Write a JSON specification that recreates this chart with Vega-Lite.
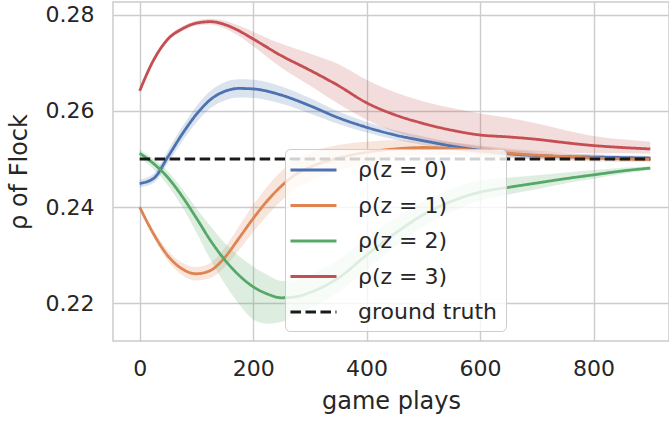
{
  "$schema": "https://vega.github.io/schema/vega-lite/v6.json",
  "width": 556,
  "height": 339,
  "autosize": {"type": "none"},
  "padding": {"left": 113, "top": 2, "right": 0, "bottom": 80},
  "background": "white",
  "datasets": {
    "d": [
      {"s":"ρ(z = 0)","x":0,"y":0.2449,"lo":0.2441,"hi":0.2457},
      {"s":"ρ(z = 0)","x":25,"y":0.2460,"lo":0.2450,"hi":0.2470},
      {"s":"ρ(z = 0)","x":50,"y":0.2505,"lo":0.2492,"hi":0.2518},
      {"s":"ρ(z = 0)","x":75,"y":0.2552,"lo":0.2537,"hi":0.2567},
      {"s":"ρ(z = 0)","x":100,"y":0.2593,"lo":0.2576,"hi":0.2610},
      {"s":"ρ(z = 0)","x":125,"y":0.2624,"lo":0.2606,"hi":0.2642},
      {"s":"ρ(z = 0)","x":150,"y":0.2641,"lo":0.2622,"hi":0.2660},
      {"s":"ρ(z = 0)","x":175,"y":0.2647,"lo":0.2628,"hi":0.2666},
      {"s":"ρ(z = 0)","x":200,"y":0.2646,"lo":0.2627,"hi":0.2665},
      {"s":"ρ(z = 0)","x":250,"y":0.2633,"lo":0.2615,"hi":0.2651},
      {"s":"ρ(z = 0)","x":300,"y":0.2611,"lo":0.2595,"hi":0.2627},
      {"s":"ρ(z = 0)","x":350,"y":0.2586,"lo":0.2573,"hi":0.2599},
      {"s":"ρ(z = 0)","x":400,"y":0.2566,"lo":0.2555,"hi":0.2577},
      {"s":"ρ(z = 0)","x":450,"y":0.2550,"lo":0.2540,"hi":0.2560},
      {"s":"ρ(z = 0)","x":500,"y":0.2538,"lo":0.2529,"hi":0.2547},
      {"s":"ρ(z = 0)","x":550,"y":0.2527,"lo":0.2519,"hi":0.2535},
      {"s":"ρ(z = 0)","x":600,"y":0.2518,"lo":0.2510,"hi":0.2526},
      {"s":"ρ(z = 0)","x":650,"y":0.2511,"lo":0.2504,"hi":0.2518},
      {"s":"ρ(z = 0)","x":700,"y":0.2507,"lo":0.2500,"hi":0.2514},
      {"s":"ρ(z = 0)","x":750,"y":0.2505,"lo":0.2499,"hi":0.2511},
      {"s":"ρ(z = 0)","x":800,"y":0.2504,"lo":0.2498,"hi":0.2510},
      {"s":"ρ(z = 0)","x":850,"y":0.2503,"lo":0.2498,"hi":0.2508},
      {"s":"ρ(z = 0)","x":900,"y":0.2502,"lo":0.2497,"hi":0.2507},

      {"s":"ρ(z = 1)","x":0,"y":0.2400,"lo":0.2396,"hi":0.2404},
      {"s":"ρ(z = 1)","x":25,"y":0.2343,"lo":0.2335,"hi":0.2351},
      {"s":"ρ(z = 1)","x":50,"y":0.2298,"lo":0.2287,"hi":0.2309},
      {"s":"ρ(z = 1)","x":75,"y":0.2271,"lo":0.2258,"hi":0.2284},
      {"s":"ρ(z = 1)","x":100,"y":0.2261,"lo":0.2247,"hi":0.2275},
      {"s":"ρ(z = 1)","x":125,"y":0.2268,"lo":0.2252,"hi":0.2284},
      {"s":"ρ(z = 1)","x":150,"y":0.2295,"lo":0.2275,"hi":0.2315},
      {"s":"ρ(z = 1)","x":175,"y":0.2335,"lo":0.2310,"hi":0.2360},
      {"s":"ρ(z = 1)","x":200,"y":0.2376,"lo":0.2348,"hi":0.2404},
      {"s":"ρ(z = 1)","x":225,"y":0.2413,"lo":0.2383,"hi":0.2443},
      {"s":"ρ(z = 1)","x":250,"y":0.2444,"lo":0.2413,"hi":0.2475},
      {"s":"ρ(z = 1)","x":275,"y":0.2468,"lo":0.2437,"hi":0.2499},
      {"s":"ρ(z = 1)","x":300,"y":0.2483,"lo":0.2453,"hi":0.2513},
      {"s":"ρ(z = 1)","x":350,"y":0.2502,"lo":0.2475,"hi":0.2529},
      {"s":"ρ(z = 1)","x":400,"y":0.2514,"lo":0.2492,"hi":0.2536},
      {"s":"ρ(z = 1)","x":450,"y":0.2521,"lo":0.2503,"hi":0.2539},
      {"s":"ρ(z = 1)","x":500,"y":0.2524,"lo":0.2509,"hi":0.2539},
      {"s":"ρ(z = 1)","x":550,"y":0.2522,"lo":0.2509,"hi":0.2535},
      {"s":"ρ(z = 1)","x":600,"y":0.2517,"lo":0.2506,"hi":0.2528},
      {"s":"ρ(z = 1)","x":650,"y":0.2512,"lo":0.2502,"hi":0.2522},
      {"s":"ρ(z = 1)","x":700,"y":0.2508,"lo":0.2499,"hi":0.2517},
      {"s":"ρ(z = 1)","x":750,"y":0.2505,"lo":0.2497,"hi":0.2513},
      {"s":"ρ(z = 1)","x":800,"y":0.2502,"lo":0.2495,"hi":0.2509},
      {"s":"ρ(z = 1)","x":850,"y":0.2500,"lo":0.2494,"hi":0.2506},
      {"s":"ρ(z = 1)","x":900,"y":0.2499,"lo":0.2494,"hi":0.2504},

      {"s":"ρ(z = 2)","x":0,"y":0.2512,"lo":0.2504,"hi":0.2520},
      {"s":"ρ(z = 2)","x":25,"y":0.2490,"lo":0.2478,"hi":0.2500},
      {"s":"ρ(z = 2)","x":50,"y":0.2461,"lo":0.2445,"hi":0.2474},
      {"s":"ρ(z = 2)","x":75,"y":0.2422,"lo":0.2400,"hi":0.2438},
      {"s":"ρ(z = 2)","x":100,"y":0.2377,"lo":0.2347,"hi":0.2397},
      {"s":"ρ(z = 2)","x":125,"y":0.2330,"lo":0.2290,"hi":0.2360},
      {"s":"ρ(z = 2)","x":150,"y":0.2290,"lo":0.2240,"hi":0.2325},
      {"s":"ρ(z = 2)","x":175,"y":0.2258,"lo":0.2198,"hi":0.2298},
      {"s":"ρ(z = 2)","x":200,"y":0.2234,"lo":0.2166,"hi":0.2276},
      {"s":"ρ(z = 2)","x":225,"y":0.2219,"lo":0.2157,"hi":0.2259},
      {"s":"ρ(z = 2)","x":250,"y":0.2211,"lo":0.2161,"hi":0.2246},
      {"s":"ρ(z = 2)","x":275,"y":0.2213,"lo":0.2173,"hi":0.2248},
      {"s":"ρ(z = 2)","x":300,"y":0.2222,"lo":0.2189,"hi":0.2259},
      {"s":"ρ(z = 2)","x":350,"y":0.2252,"lo":0.2222,"hi":0.2290},
      {"s":"ρ(z = 2)","x":400,"y":0.2300,"lo":0.2270,"hi":0.2335},
      {"s":"ρ(z = 2)","x":450,"y":0.2345,"lo":0.2317,"hi":0.2377},
      {"s":"ρ(z = 2)","x":500,"y":0.2384,"lo":0.2359,"hi":0.2412},
      {"s":"ρ(z = 2)","x":550,"y":0.2412,"lo":0.2390,"hi":0.2438},
      {"s":"ρ(z = 2)","x":600,"y":0.2431,"lo":0.2413,"hi":0.2456},
      {"s":"ρ(z = 2)","x":650,"y":0.2441,"lo":0.2426,"hi":0.2461},
      {"s":"ρ(z = 2)","x":700,"y":0.2450,"lo":0.2437,"hi":0.2466},
      {"s":"ρ(z = 2)","x":750,"y":0.2459,"lo":0.2449,"hi":0.2472},
      {"s":"ρ(z = 2)","x":800,"y":0.2467,"lo":0.2459,"hi":0.2477},
      {"s":"ρ(z = 2)","x":850,"y":0.2475,"lo":0.2469,"hi":0.2482},
      {"s":"ρ(z = 2)","x":900,"y":0.2481,"lo":0.2477,"hi":0.2485},

      {"s":"ρ(z = 3)","x":0,"y":0.2642,"lo":0.2637,"hi":0.2647},
      {"s":"ρ(z = 3)","x":25,"y":0.2707,"lo":0.2702,"hi":0.2712},
      {"s":"ρ(z = 3)","x":50,"y":0.2750,"lo":0.2745,"hi":0.2755},
      {"s":"ρ(z = 3)","x":75,"y":0.2771,"lo":0.2766,"hi":0.2776},
      {"s":"ρ(z = 3)","x":100,"y":0.2783,"lo":0.2778,"hi":0.2788},
      {"s":"ρ(z = 3)","x":125,"y":0.2786,"lo":0.2780,"hi":0.2792},
      {"s":"ρ(z = 3)","x":150,"y":0.2780,"lo":0.2772,"hi":0.2788},
      {"s":"ρ(z = 3)","x":175,"y":0.2767,"lo":0.2756,"hi":0.2778},
      {"s":"ρ(z = 3)","x":200,"y":0.2750,"lo":0.2735,"hi":0.2765},
      {"s":"ρ(z = 3)","x":250,"y":0.2715,"lo":0.2690,"hi":0.2740},
      {"s":"ρ(z = 3)","x":300,"y":0.2685,"lo":0.2653,"hi":0.2720},
      {"s":"ρ(z = 3)","x":350,"y":0.2653,"lo":0.2615,"hi":0.2698},
      {"s":"ρ(z = 3)","x":400,"y":0.2617,"lo":0.2582,"hi":0.2665},
      {"s":"ρ(z = 3)","x":450,"y":0.2592,"lo":0.2557,"hi":0.2639},
      {"s":"ρ(z = 3)","x":500,"y":0.2574,"lo":0.2538,"hi":0.2620},
      {"s":"ρ(z = 3)","x":550,"y":0.2560,"lo":0.2523,"hi":0.2606},
      {"s":"ρ(z = 3)","x":600,"y":0.2550,"lo":0.2513,"hi":0.2595},
      {"s":"ρ(z = 3)","x":650,"y":0.2546,"lo":0.2513,"hi":0.2586},
      {"s":"ρ(z = 3)","x":700,"y":0.2541,"lo":0.2514,"hi":0.2574},
      {"s":"ρ(z = 3)","x":750,"y":0.2534,"lo":0.2513,"hi":0.2560},
      {"s":"ρ(z = 3)","x":800,"y":0.2528,"lo":0.2512,"hi":0.2548},
      {"s":"ρ(z = 3)","x":850,"y":0.2524,"lo":0.2512,"hi":0.2541},
      {"s":"ρ(z = 3)","x":900,"y":0.2521,"lo":0.2511,"hi":0.2536},

      {"s":"ground truth","x":0,"y":0.25},
      {"s":"ground truth","x":900,"y":0.25}
    ]
  },
  "data": {"name": "d"},
  "layer": [
    {
      "transform": [{"filter": "datum.lo != null"}],
      "mark": {"type": "area", "interpolate": "monotone", "fillOpacity": 0.2, "strokeWidth": 0},
      "encoding": {
        "x": {"field": "x", "type": "quantitative", "scale": {"domain": [-47, 933], "nice": false, "zero": false}, "axis": {"values": [0, 200, 400, 600, 800], "format": "d", "title": "game plays"}},
        "y": {"field": "lo", "type": "quantitative", "scale": {"domain": [0.2121, 0.2827], "nice": false, "zero": false}, "axis": {"values": [0.22, 0.24, 0.26, 0.28], "format": ".2f", "title": "ρ of Flock"}},
        "y2": {"field": "hi"},
        "fill": {"field": "s", "type": "nominal", "legend": null, "scale": {"domain": ["ρ(z = 0)", "ρ(z = 1)", "ρ(z = 2)", "ρ(z = 3)"], "range": ["#4c72b0", "#dd8452", "#55a868", "#c44e52"]}}
      }
    },
    {
      "mark": {"type": "line", "interpolate": "monotone", "strokeWidth": 2.8},
      "encoding": {
        "x": {"field": "x", "type": "quantitative", "scale": {"domain": [-47, 933], "nice": false, "zero": false}, "axis": {"values": [0, 200, 400, 600, 800], "format": "d", "title": "game plays"}},
        "y": {"field": "y", "type": "quantitative", "scale": {"domain": [0.2121, 0.2827], "nice": false, "zero": false}, "axis": {"values": [0.22, 0.24, 0.26, 0.28], "format": ".2f", "title": "ρ of Flock"}},
        "color": {"field": "s", "type": "nominal", "scale": {"domain": ["ρ(z = 0)", "ρ(z = 1)", "ρ(z = 2)", "ρ(z = 3)", "ground truth"], "range": ["#4c72b0", "#dd8452", "#55a868", "#c44e52", "#1a1a1a"]}, "legend": {"title": null, "orient": "none", "legendX": 172, "legendY": 147}},
        "strokeDash": {"field": "s", "type": "nominal", "scale": {"domain": ["ρ(z = 0)", "ρ(z = 1)", "ρ(z = 2)", "ρ(z = 3)", "ground truth"], "range": [[1, 0], [1, 0], [1, 0], [1, 0], [10.5, 4.5]]}, "legend": {"title": null, "orient": "none", "legendX": 172, "legendY": 147}}
      }
    }
  ],
  "config": {
    "font": "DejaVu Sans",
    "view": {"stroke": "#cccccc", "strokeWidth": 1.5},
    "axis": {
      "grid": true, "gridColor": "#cccccc", "gridWidth": 1.4,
      "domain": false, "ticks": false, "tickSize": 0,
      "labelFont": "DejaVu Sans", "labelFontSize": 22, "labelColor": "#262626",
      "titleFont": "DejaVu Sans", "titleFontSize": 24, "titleFontWeight": "normal", "titleColor": "#262626"
    },
    "axisX": {"labelPadding": 17, "titlePadding": 10},
    "axisY": {"labelPadding": 19, "titlePadding": 14},
    "legend": {
      "labelFont": "DejaVu Sans", "labelFontSize": 22, "labelColor": "#262626", "labelLimit": 300,
      "symbolType": "M-1.35,0H2.65", "symbolSize": 529, "symbolStrokeWidth": 2.8,
      "labelOffset": 39, "padding": 8, "rowPadding": 11.5,
      "fillColor": "rgba(255,255,255,0.8)", "strokeColor": "#cccccc", "cornerRadius": 5
    }
  }
}
